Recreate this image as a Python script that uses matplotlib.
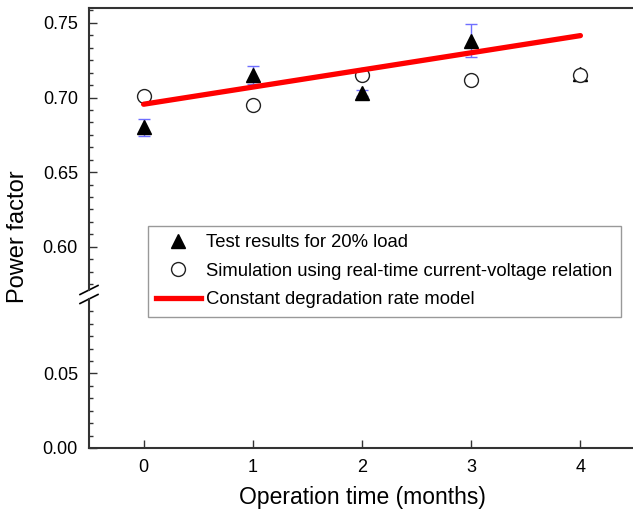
import matplotlib
matplotlib.use("Agg")
import matplotlib.pyplot as plt
from matplotlib.ticker import MultipleLocator
from matplotlib.lines import Line2D

# operation time in months
months = [0, 1, 2, 3, 4]
# measured power factor (20% load) and its spread
test_pf = [0.680, 0.715, 0.703, 0.738, 0.716]
test_err = [0.0055, 0.006, 0.002, 0.011, 0.002]
# simulation with real-time I-V relation
sim_pf = [0.701, 0.695, 0.715, 0.712, 0.715]
# constant degradation rate model (straight line)
model_months = [0, 4]
model_pf = [0.6955, 0.7415]

labels = ["Test results for 20% load",
          "Simulation using real-time current-voltage relation",
          "Constant degradation rate model"]

plt.rcParams['font.family'] = ['Liberation Sans', 'DejaVu Sans']
SPINE = '#333333'

fig = plt.figure(figsize=(6.33, 5.15), dpi=100)
ax_top = fig.add_axes([89 / 633, 1 - 290 / 515, 546 / 633, 282 / 515])
ax_low = fig.add_axes([89 / 633, 1 - 448 / 515, 546 / 633, 149 / 515])

for ax in (ax_top, ax_low):
    ax.set_xlim(-0.5, 4.5)
    ax.spines['right'].set_visible(False)
    for s in ax.spines.values():
        s.set_linewidth(1.5)
        s.set_color(SPINE)
    ax.yaxis.set_major_locator(MultipleLocator(0.05))
    ax.yaxis.set_minor_locator(MultipleLocator(0.05 / 6))
    ax.tick_params(axis='both', which='major', direction='in', length=5.5,
                   width=1, color=SPINE, labelsize=13, pad=8)
    ax.tick_params(axis='y', which='minor', direction='in', length=3,
                   width=1, color=SPINE)
    ax.yaxis.set_major_formatter(matplotlib.ticker.FormatStrFormatter('%.2f'))

ax_top.set_ylim(0.571, 0.76)
ax_top.spines['bottom'].set_visible(False)
ax_top.tick_params(axis='x', which='both', bottom=False, labelbottom=False)

ax_low.set_ylim(0.0, 0.0999)
ax_low.spines['top'].set_visible(False)
ax_low.set_xticks(months)
ax_low.set_xlabel('Operation time (months)', fontsize=16.5, labelpad=7)

# data
ax_top.errorbar(months, test_pf, yerr=test_err, fmt='^', color='black',
                markersize=10, ecolor='#6f6fff', elinewidth=1, capsize=4,
                capthick=1, zorder=3)
ax_top.plot(months, sim_pf, 'o', markerfacecolor='white',
            markeredgecolor='#222222', markeredgewidth=1, markersize=10,
            zorder=4)
ax_top.plot(model_months, model_pf, '-', color='#ff0000', linewidth=3.8,
            solid_capstyle='round', zorder=5)

# break marks on the left axis
for ax, yy in ((ax_top, 0.0), (ax_low, 1.0)):
    dx = 9 / 546
    dy = 4.5 / (282 if ax is ax_top else 149)
    ax.plot([-dx, dx], [yy - dy, yy + dy], transform=ax.transAxes,
            color='black', linewidth=1.2, clip_on=False)

fig.text(18 / 633, 1 - 237 / 515, 'Power factor', rotation=90,
         fontsize=17, va='center', ha='center')

handles = [Line2D([], [], marker='^', color='black', linestyle='none', markersize=10),
           Line2D([], [], marker='o', linestyle='none', markerfacecolor='white',
                  markeredgecolor='#222222', markersize=10),
           Line2D([], [], color='#ff0000', linewidth=3.8)]
leg = fig.legend(handles, labels, loc='upper left',
                 bbox_to_anchor=(148 / 633, 1 - 226 / 515),
                 fontsize=13.3, frameon=True, fancybox=False, borderpad=0.45,
                 labelspacing=0.62, handlelength=2.4, handletextpad=0.3,
                 borderaxespad=0)
leg.get_frame().set_edgecolor('#808080')
leg.get_frame().set_linewidth(1)

fig.savefig('out.png', dpi=100)
